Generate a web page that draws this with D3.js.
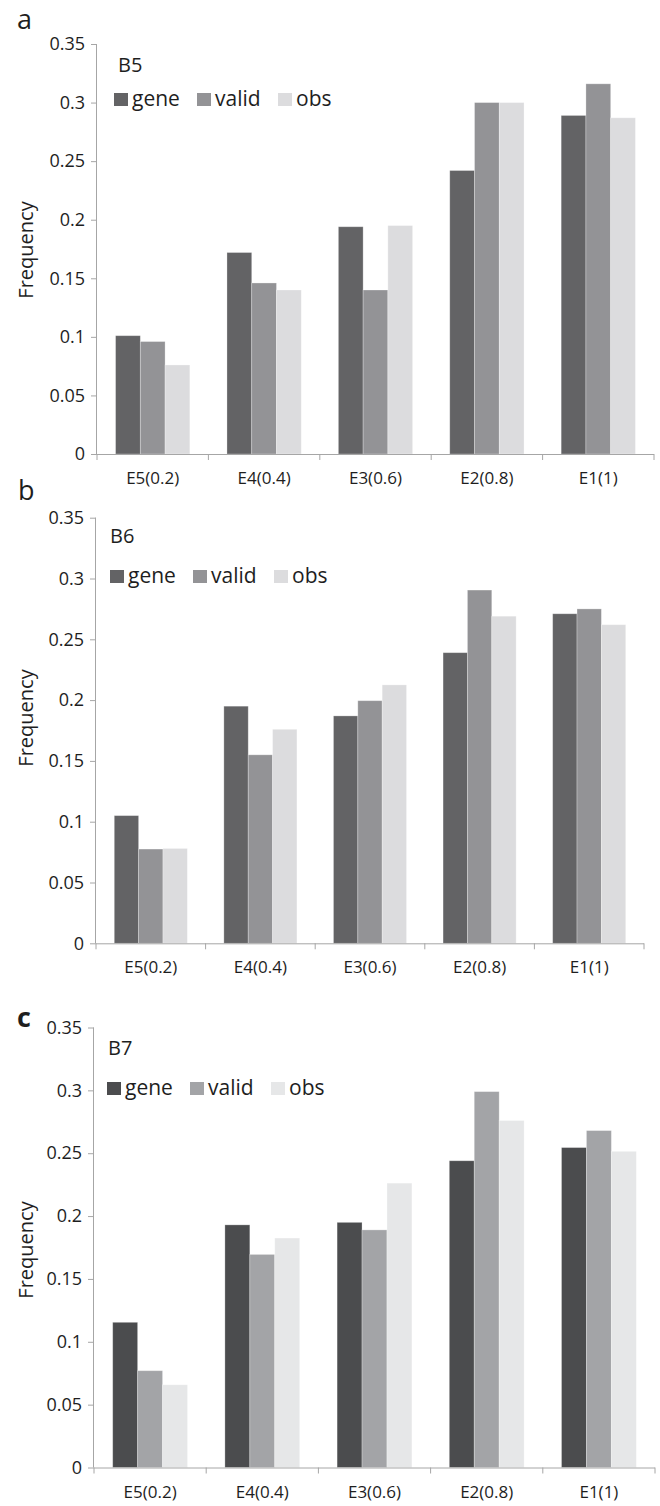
<!DOCTYPE html>
<html>
<head>
<meta charset="utf-8">
<script src="https://cdn.jsdelivr.net/npm/d3@7"></script>
<style>
  html, body { margin: 0; padding: 0; background: #fff; }
  svg { display: block; }
  text { font-family: "Open Sans", "Liberation Sans", sans-serif; fill: #1e1e1e; }
</style>
</head>
<body>
<svg id="fig" width="660" height="1506"></svg>
<script>
// Categories along the x axis
const categories = ["E5(0.2)", "E4(0.4)", "E3(0.6)", "E2(0.8)", "E1(1)"];
// Series shown in every panel
const seriesNames = ["gene", "valid", "obs"];
// Y-axis tick values
const yTicks = [0, 0.05, 0.1, 0.15, 0.2, 0.25, 0.3, 0.35];

// Frequencies per category, one array per series (B5)
const b5Gene  = [0.101, 0.172, 0.194, 0.242, 0.289];
const b5Valid = [0.096, 0.146, 0.140, 0.300, 0.316];
const b5Obs   = [0.076, 0.140, 0.195, 0.300, 0.287];
// B6
const b6Gene  = [0.105, 0.195, 0.187, 0.239, 0.271];
const b6Valid = [0.0775, 0.155, 0.1995, 0.2905, 0.275];
const b6Obs   = [0.078, 0.176, 0.2125, 0.269, 0.262];
// B7
const b7Gene  = [0.1155, 0.193, 0.195, 0.244, 0.2545];
const b7Valid = [0.077, 0.1695, 0.189, 0.299, 0.268];
const b7Obs   = [0.0658, 0.1825, 0.2262, 0.276, 0.2515];

const panels = [
  { letter: "a", bold: false, title: "B5", values: [b5Gene, b5Valid, b5Obs],
    colors: ["#636365", "#939396", "#dcdcde"],
    left: 97, right: 654, top: 44, bottom: 454,
    titleX: 118, titleY: 72, legX: 114, legY: 93, letterX: 17, letterY: 29, freqY: 250 },
  { letter: "b", bold: false, title: "B6", values: [b6Gene, b6Valid, b6Obs],
    colors: ["#636365", "#939396", "#dcdcde"],
    left: 96, right: 644, top: 517.7, bottom: 943.3,
    titleX: 110, titleY: 543, legX: 110, legY: 570, letterX: 18, letterY: 500, freqY: 718 },
  { letter: "c", bold: true, title: "B7", values: [b7Gene, b7Valid, b7Obs],
    colors: ["#4b4c4e", "#a3a4a7", "#e6e7e8"],
    left: 94, right: 655, top: 1027.5, bottom: 1467.5,
    titleX: 108, titleY: 1055, legX: 107, legY: 1082, letterX: 17, letterY: 1027, freqY: 1250 }
];

const svg = d3.select("#fig");
const axisColor = "#a6a6a6";
const fmt = d => d === 0 ? "0" : String(+d.toFixed(2));

panels.forEach(p => {
  const g = svg.append("g");

  const x0 = d3.scaleBand()
    .domain(categories)
    .range([p.left, p.right])
    .paddingInner(1 / 3)
    .paddingOuter(1 / 6);
  const x1 = d3.scaleBand()
    .domain(seriesNames)
    .range([0, x0.bandwidth()]);
  const y = d3.scaleLinear().domain([0, 0.35]).range([p.bottom, p.top]);

  // bars
  seriesNames.forEach((s, si) => {
    g.append("g")
      .selectAll("rect")
      .data(p.values[si].map((v, i) => ({ cat: categories[i], v })))
      .join("rect")
      .attr("x", d => x0(d.cat) + x1(s))
      .attr("y", d => y(d.v))
      .attr("width", x1.bandwidth())
      .attr("height", d => y(0) - y(d.v))
      .attr("fill", p.colors[si])
      .attr("stroke", "#ffffff")
      .attr("stroke-opacity", 0.35)
      .attr("stroke-width", 0.8);
  });

  // y axis
  const ya = g.append("g")
    .attr("transform", `translate(${p.left},0)`)
    .call(d3.axisLeft(y).tickValues(yTicks).tickFormat(fmt).tickSize(6).tickPadding(6));
  ya.select(".domain").attr("stroke", axisColor).attr("d", `M-0.5,${y(0)}V${y(0.35)}`);
  ya.selectAll(".tick line").attr("stroke", axisColor);
  ya.selectAll(".tick text").attr("font-size", 18).attr("fill", "#1e1e1e")
    .attr("font-family", '"Open Sans", sans-serif');

  // x axis with labels centred under each category
  const xa = g.append("g")
    .attr("transform", `translate(0,${p.bottom})`)
    .call(d3.axisBottom(x0).tickSize(0).tickPadding(18));
  xa.select(".domain").attr("stroke", axisColor).attr("d", `M${p.left},0.5H${p.right}`);
  xa.selectAll(".tick text").attr("font-size", 17).attr("fill", "#1e1e1e")
    .attr("font-family", '"Open Sans", sans-serif');

  // category boundary ticks
  const bounds = d3.range(categories.length + 1).map(i => p.left + i * x0.step());
  g.append("g").selectAll("line").data(bounds).join("line")
    .attr("x1", d => d).attr("x2", d => d)
    .attr("y1", p.bottom).attr("y2", p.bottom + 6)
    .attr("stroke", axisColor);

  // y-axis title
  g.append("text")
    .attr("transform", `translate(33,${p.freqY}) rotate(-90)`)
    .attr("text-anchor", "middle")
    .attr("font-size", 20)
    .text("Frequency");

  // panel title and legend
  g.append("text").attr("x", p.titleX).attr("y", p.titleY)
    .attr("font-size", 20).text(p.title);

  const legOffsets = [0, 83, 164];
  seriesNames.forEach((s, si) => {
    const lx = p.legX + legOffsets[si];
    g.append("rect").attr("x", lx).attr("y", p.legY)
      .attr("width", 14).attr("height", 13).attr("fill", p.colors[si]);
    g.append("text").attr("x", lx + 18).attr("y", p.legY + 13)
      .attr("font-size", 21).text(s);
  });

  // panel letter
  g.append("text").attr("x", p.letterX).attr("y", p.letterY)
    .attr("font-family", '"Liberation Sans", Arial, sans-serif')
    .attr("font-weight", p.bold ? "bold" : "normal")
    .attr("font-size", 27).attr("fill", "#111")
    .text(p.letter);
});
</script>
</body>
</html>
